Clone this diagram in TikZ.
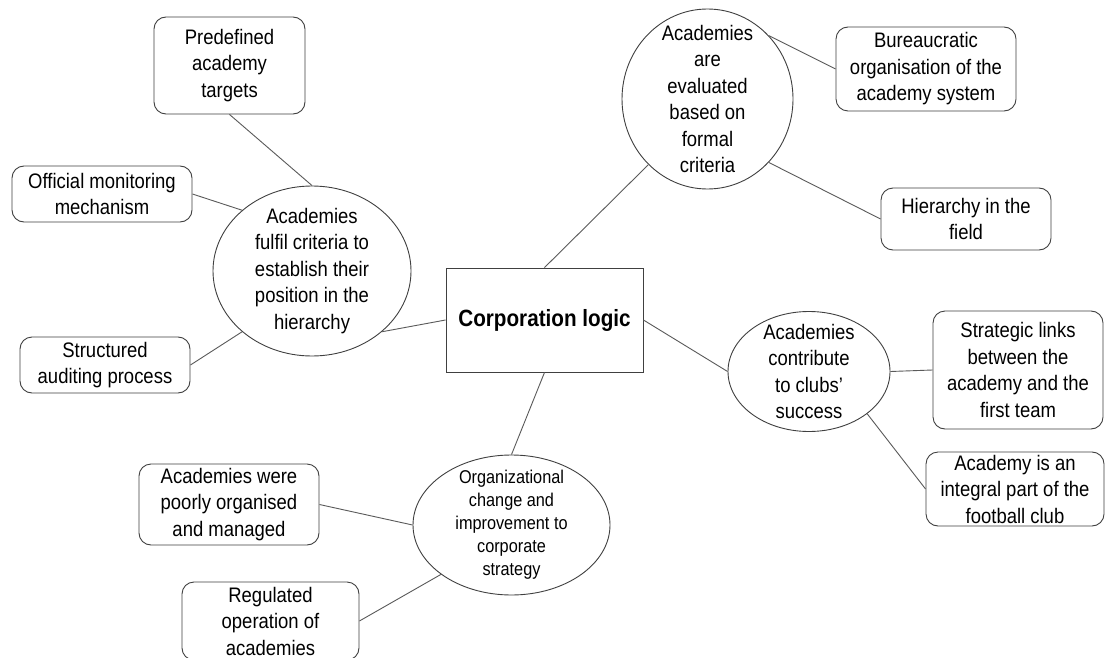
\documentclass[tikz,border=0pt]{standalone}
\usepackage{fontspec}
\setmainfont{Liberation Sans}[FakeStretch=0.88]
\usetikzlibrary{shapes.geometric}
\definecolor{edgegray}{HTML}{404040}
\definecolor{linkgray}{HTML}{5A5A5A}
\tikzset{
  txt/.style={font=\fontsize{21}{26.5}\selectfont, align=center, text=black},
  card/.style={txt, draw=edgegray, line width=0.9pt, rounded corners=12pt,
    rectangle, inner sep=-15pt},
  bubble/.style={txt, draw=edgegray, line width=0.9pt, ellipse, inner sep=-50pt},
  corebox/.style={draw=edgegray, line width=0.9pt, rectangle, inner sep=-15pt,
    font=\fontsize{23.5}{28}\selectfont\bfseries, text=black},
  link/.style={draw=linkgray, line width=0.9pt}
}
\begin{document}
\begin{tikzpicture}[x=1pt,y=-1pt]
\useasboundingbox (0,0) rectangle (1105,658);
\fill[white] (0,0) rectangle (1105,658);

% central concept
\node[corebox, minimum width=197pt, minimum height=104pt] (core) at (544.5,320) {Corporation logic};

% first-order themes
\node[bubble, minimum width=198pt, minimum height=170pt] (fulfil) at (312,271)
  {Academies\\fulfil criteria to\\establish their\\position in the\\hierarchy};
\node[bubble, minimum width=171pt, minimum height=180pt] (evaluated) at (707.5,99)
  {Academies\\are\\evaluated\\based on\\formal\\criteria};
\node[bubble, minimum width=162pt, minimum height=120pt] (contrib) at (809,371.5)
  {Academies\\contribute\\to clubs’\\success};
\node[bubble, font=\fontsize{18.5}{23}\selectfont, minimum width=197pt, minimum height=140pt] (orgchange) at (511.5,525)
  {Organizational\\change and\\improvement to\\corporate\\strategy};

% second-order codes
\node[card, minimum width=151pt, minimum height=97pt] (targets) at (229.5,65.5)
  {Predefined\\academy\\targets};
\node[card, minimum width=180pt, minimum height=56pt] (monitor) at (102,194)
  {Official monitoring\\mechanism};
\node[card, minimum width=170pt, minimum height=56pt] (audit) at (105,365)
  {Structured\\auditing process};
\node[card, minimum width=180pt, minimum height=84pt] (bureau) at (926,69)
  {Bureaucratic\\organisation of the\\academy system};
\node[card, minimum width=170pt, minimum height=62pt] (hier) at (966,219)
  {Hierarchy in the\\field};
\node[card, minimum width=170pt, minimum height=118pt] (links) at (1018,370)
  {Strategic links\\between the\\academy and the\\first team};
\node[card, minimum width=178pt, minimum height=74pt] (integral) at (1015,489)
  {Academy is an\\integral part of the\\football club};
\node[card, minimum width=180pt, minimum height=81pt] (poorly) at (229,504.5)
  {Academies were\\poorly organised\\and managed};
\node[card, minimum width=177pt, minimum height=78pt] (regulated) at (270.5,621)
  {Regulated\\operation of\\academies};

% connectors
\draw[link] (targets.south) -- (fulfil.north);
\draw[link] (monitor.east) -- (fulfil.139);
\draw[link] (audit.east) -- (fulfil.221);
\draw[link] (fulfil.-41.5) -- (core.west);
\draw[link] (core.north) -- (evaluated.-132.5);
\draw[link] (evaluated.46) -- (bureau.west);
\draw[link] (evaluated.-46.6) -- (hier.west);
\draw[link] (core.east) -- (contrib.west);
\draw[link] (contrib.east) -- (links.west);
\draw[link] (contrib.-36) -- (integral.west);
\draw[link] (core.south) -- (orgchange.north);
\draw[link] (poorly.east) -- (orgchange.west);
\draw[link] (regulated.east) -- (orgchange.215.7);
\end{tikzpicture}
\end{document}
